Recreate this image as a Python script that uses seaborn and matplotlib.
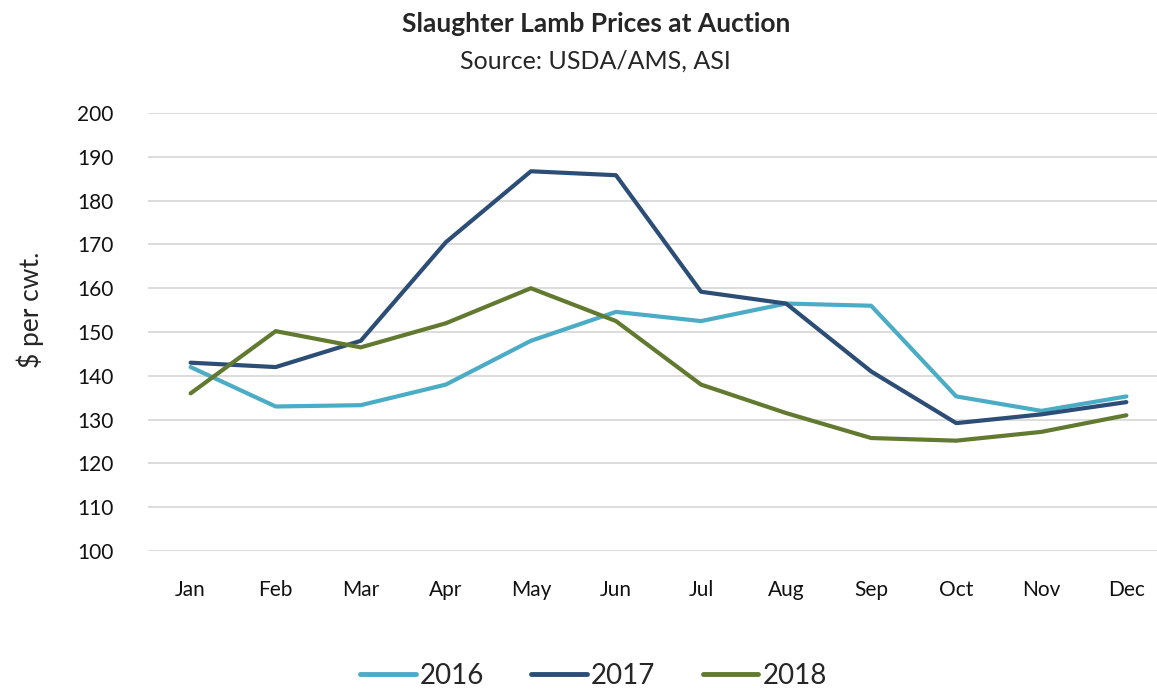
import matplotlib.pyplot as plt
import pandas as pd
import seaborn as sns

months = ['Jan', 'Feb', 'Mar', 'Apr', 'May', 'Jun', 'Jul', 'Aug', 'Sep', 'Oct', 'Nov', 'Dec']
prices_2016 = [142.0, 133.0, 133.3, 138.0, 148.0, 154.6, 152.5, 156.5, 156.0, 135.3, 132.0, 135.3]
prices_2017 = [143.0, 142.0, 148.0, 170.5, 186.7, 185.8, 159.2, 156.5, 141.0, 129.2, 131.2, 134.0]
prices_2018 = [136.0, 150.2, 146.5, 152.0, 160.0, 152.5, 138.0, 131.5, 125.8, 125.2, 127.2, 131.0]
years = ['2016', '2017', '2018']
colors = ['#4bacc6', '#2c4d75', '#617a30']

rows = []
for year, vals in zip(years, [prices_2016, prices_2017, prices_2018]):
    for i, (m, v) in enumerate(zip(months, vals)):
        rows.append({'pos': i, 'month': m, 'year': year, 'price': v})
df = pd.DataFrame(rows)

sns.set_style('white')
plt.rcParams['font.family'] = ['Lato', 'DejaVu Sans']

fig = plt.figure(figsize=(11.57, 6.9), dpi=100)
ax = fig.add_axes([0.128, 0.2014, 0.872, 0.6348])

sns.lineplot(data=df, x='pos', y='price', hue='year', palette=colors,
             linewidth=3, ax=ax, legend=False)

ax.set_xlim(-0.5, 11.36)
ax.set_ylim(100, 200)
ax.set_yticks(range(100, 201, 10))
ax.set_xticks(range(len(months)))
ax.set_xticklabels(months)
ax.yaxis.grid(True, color='#d9d9d9', linewidth=1.3)
ax.set_axisbelow(True)
for s in ax.spines.values():
    s.set_visible(False)
ax.tick_params(axis='both', length=0, labelsize=15, colors='#111111')
ax.tick_params(axis='x', pad=21)
ax.tick_params(axis='y', pad=25)
ax.set_xlabel('')
ax.set_ylabel('$ per cwt.', fontsize=19)
ax.yaxis.set_label_coords(-0.103, 0.55)

fig.text(0.515, 0.965, 'Slaughter Lamb Prices at Auction', ha='center', va='center',
         fontsize=19, fontweight='bold')
fig.text(0.515, 0.912, 'Source: USDA/AMS, ASI', ha='center', va='center', fontsize=18)

handles = [plt.Line2D([], [], color=c, linewidth=3.5, solid_capstyle='round') for c in colors]
fig.legend(handles, years, loc='center', bbox_to_anchor=(0.513, 0.02), ncol=3,
           frameon=False, fontsize=20, handlelength=2.0, handletextpad=0.15,
           columnspacing=1.7)

fig.savefig('out.png', dpi=100)
